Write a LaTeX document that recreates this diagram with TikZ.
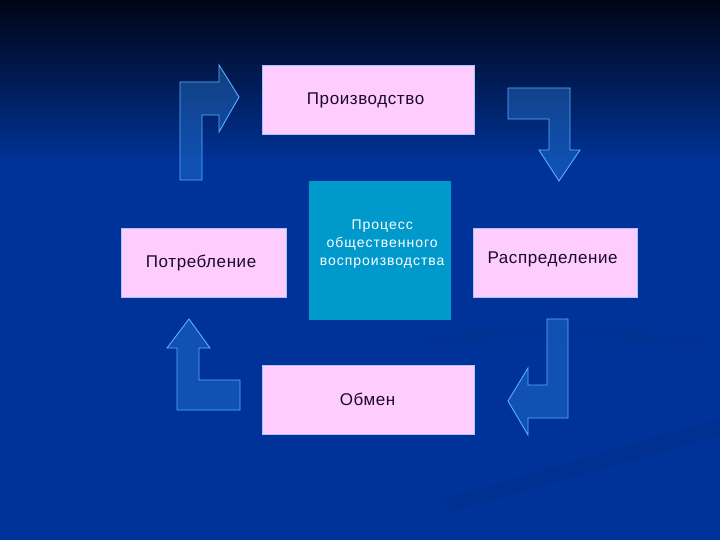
\documentclass[tikz,border=0pt]{standalone}
\usepackage{fontspec}
\setmainfont{Liberation Sans}
\definecolor{bgtop}{HTML}{000514}
\definecolor{bgmid}{HTML}{001E5C}
\definecolor{bgmain}{HTML}{003399}
\definecolor{pinkbox}{HTML}{FFCCFF}
\definecolor{pinkedge}{HTML}{A8C4FF}
\definecolor{centerbox}{HTML}{0099CC}
\definecolor{arrowedge}{HTML}{5CAEFF}
\definecolor{arrowfill}{HTML}{2E8AE6}
\definecolor{textdark}{HTML}{1A0A2A}
\begin{document}
\begin{tikzpicture}[x=1pt,y=-1pt,
  pinkstyle/.style={draw=pinkedge, line width=1.2pt, fill=pinkbox, inner sep=0pt,
    anchor=north west},
  pinklabel/.style={text=textdark, font=\fontsize{17}{20}\selectfont\addfontfeature{LetterSpace=3.5}},
  centerstyle/.style={fill=centerbox, inner sep=0pt, anchor=north west},
  centerlabel/.style={text=white, align=center, font=\fontsize{14}{18}\selectfont\addfontfeature{LetterSpace=7}},
  bentarrow/.style={draw=arrowedge, line width=0.9pt, fill=arrowfill, fill opacity=0.35, line join=miter}]
\useasboundingbox (0,0) rectangle (720,540);
% background
\fill[bgmain] (0,0) rectangle (720,540);
\shade[top color=bgtop, bottom color=bgmid] (0,0) rectangle (720,90);
\shade[top color=bgmid, bottom color=bgmain] (0,89.5) rectangle (720,165);
% faint streaks
\fill[black, opacity=0.045] (440,500) -- (720,418) -- (720,436) -- (450,512) -- cycle;
\fill[black, opacity=0.03] (420,335) .. controls (520,318) and (640,325) .. (710,338) -- (710,350) .. controls (620,340) and (520,336) .. (430,348) -- cycle;
% boxes
\node[pinkstyle, minimum width=212pt, minimum height=69pt] (prod) at (262,65) {};
\node[pinklabel] (prodtext) at ([xshift=-3pt]prod.center) {Производство};
\node[pinkstyle, minimum width=165pt, minimum height=69pt] (potr) at (121,228) {};
\node[pinklabel] (potrtext) at ([xshift=-3pt]potr.center) {Потребление};
\node[pinkstyle, minimum width=164pt, minimum height=69pt] (rasp) at (473,228) {};
\node[pinklabel] (rasptext) at ([xshift=-3pt,yshift=4pt]rasp.center) {Распределение};
\node[pinkstyle, minimum width=212pt, minimum height=69pt] (obmen) at (262,365) {};
\node[pinklabel] (obmentext) at ([xshift=-1pt,yshift=1pt]obmen.center) {Обмен};
\node[centerstyle, minimum width=142pt, minimum height=139pt] (proc) at (309,181) {};
\node[centerlabel] (proctext) at ([xshift=2pt,yshift=7pt]proc.center) {Процесс\\общественного\\воспроизводства};
% arrows
\draw[bentarrow] (180,180) -- (180,82) -- (219,82) -- (219,65) -- (239,97) -- (219,132) -- (219,115) -- (202,115) -- (202,180) -- cycle;
\draw[bentarrow] (508,88) -- (570,88) -- (570,150) -- (580,150) -- (559,181) -- (539,150) -- (549,150) -- (549,119) -- (508,119) -- cycle;
\draw[bentarrow] (547,319) -- (568,319) -- (568,418) -- (528,418) -- (528,435) -- (508,401) -- (528,368) -- (528,385) -- (547,385) -- cycle;
\draw[bentarrow] (189,319) -- (210,348) -- (199,348) -- (199,380) -- (240,380) -- (240,410) -- (177,410) -- (177,348) -- (167,348) -- cycle;
\end{tikzpicture}
\end{document}
